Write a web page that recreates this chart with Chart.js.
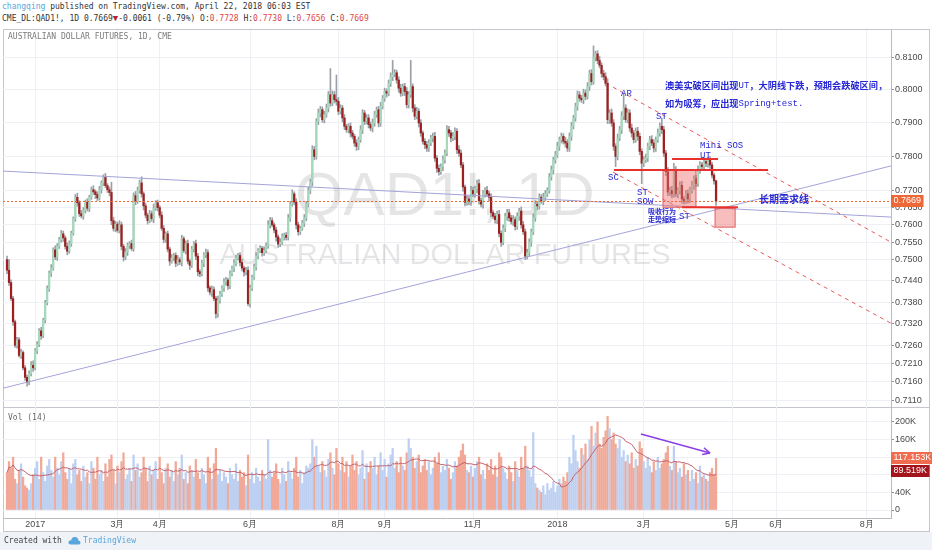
<!DOCTYPE html>
<html>
<head>
<meta charset="utf-8">
<title>QAD1! 1D</title>
<script src="https://cdn.jsdelivr.net/npm/chart.js@4.4.1/dist/chart.umd.min.js"></script>
<style>
  html, body { margin: 0; padding: 0; background: #fff; }
  body { position: relative; width: 932px; height: 550px; overflow: hidden;
         font-family: "DejaVu Sans Mono", monospace; }
  .txt { position: absolute; white-space: pre; font-size: 8px; line-height: 10px; color: #333; }
  .red { color: #e0474c; }
  .tri { color: #c0202a; font-size: 9px; }
  #frame { position: absolute; left: 3px; top: 29px; width: 927px; height: 503px;
           border: 1px solid #c3c6cc; box-sizing: border-box; }
  #sep { position: absolute; left: 3px; top: 407px; width: 927px; height: 1px; background: #c3c6cc; }
  #foot { position: absolute; left: 0; top: 532px; width: 932px; height: 18px; background: #eff2f6; }
  canvas { position: absolute; left: 0; }
</style>
</head>
<body>
<div class="txt" style="left:2px;top:2px"><span style="color:#5aa6dc">changqing</span> published on TradingView.com, April 22, 2018 06:03 EST</div>
<div class="txt" style="left:2px;top:13px">CME_DL:QAD1!, 1D 0.7669<span class="tri">▼</span>-0.0061 (-0.79%) O:<span class="red">0.7728</span> H:<span class="red">0.7730</span> L:<span class="red">0.7656</span> C:<span class="red">0.7669</span></div>
<div id="frame"></div>
<div id="sep"></div>
<canvas id="price" width="932" height="378" style="top:30px;width:932px;height:378px"></canvas>
<canvas id="vol" width="932" height="124" style="top:408px;width:932px;height:124px"></canvas>
<div class="txt" style="left:8px;top:32px;color:#7a7a7a">AUSTRALIAN DOLLAR FUTURES, 1D, CME</div>
<div class="txt" style="left:8px;top:413px;color:#6a6a6a">Vol (14)</div>
<div id="foot">
  <div class="txt" style="left:4px;top:4px;color:#444">Created with</div>
  <svg style="position:absolute;left:68px;top:4px" width="13" height="9" viewBox="0 0 13 9">
    <path d="M3 8.5 Q0 8.5 0.5 5.8 Q1 3.8 3.2 4.2 Q4 0.5 7.5 1 Q10.5 1.6 10.3 4.4 Q12.8 4.8 12.5 7 Q12.2 8.5 10.5 8.5 Z" fill="#5aa6dc"/>
  </svg>
  <div class="txt" style="left:83px;top:4px;color:#5aa6dc">TradingView</div>
</div>
<script>
// ---- data (one entry per daily bar) ----
const firstOpen = 0.7500;
const closes = [
  0.7470,0.7435,0.7390,0.7325,0.7260,0.7275,0.7232,0.7240,0.7198,0.7172,
  0.7160,0.7182,0.7205,0.7198,0.7245,0.7262,0.7300,0.7286,0.7330,0.7378,
  0.7418,0.7462,0.7476,0.7528,0.7508,0.7538,0.7558,0.7574,0.7562,0.7538,
  0.7524,0.7546,0.7576,0.7618,0.7680,0.7664,0.7632,0.7626,0.7642,0.7666,
  0.7648,0.7680,0.7702,0.7696,0.7688,0.7678,0.7702,0.7722,0.7738,0.7714,
  0.7702,0.7694,0.7612,0.7590,0.7602,0.7584,0.7600,0.7538,0.7508,0.7522,
  0.7540,0.7546,0.7532,0.7685,0.7668,0.7700,0.7722,0.7690,0.7655,0.7628,
  0.7612,0.7632,0.7618,0.7648,0.7664,0.7650,0.7628,0.7590,0.7558,0.7574,
  0.7530,0.7496,0.7505,0.7512,0.7490,0.7500,0.7494,0.7560,0.7526,0.7546,
  0.7496,0.7484,0.7530,0.7546,0.7510,0.7466,0.7460,0.7490,0.7514,0.7520,
  0.7420,0.7408,0.7415,0.7390,0.7348,0.7385,0.7402,0.7420,0.7436,0.7442,
  0.7426,0.7460,0.7476,0.7490,0.7505,0.7512,0.7492,0.7476,0.7465,0.7470,
  0.7376,0.7420,0.7450,0.7480,0.7510,0.7526,0.7532,0.7520,0.7526,0.7540,
  0.7600,0.7612,0.7600,0.7585,0.7565,0.7545,0.7550,0.7566,0.7570,0.7564,
  0.7620,0.7660,0.7690,0.7666,0.7600,0.7580,0.7590,0.7605,0.7620,0.7660,
  0.7700,0.7725,0.7820,0.7800,0.7905,0.7930,0.7940,0.7910,0.7925,0.7945,
  0.7985,0.7960,0.7985,0.7970,0.7965,0.7935,0.7945,0.7915,0.7890,0.7880,
  0.7890,0.7870,0.7860,0.7840,0.7830,0.7850,0.7880,0.7930,0.7905,0.7915,
  0.7895,0.7885,0.7900,0.7925,0.7940,0.7900,0.7950,0.7975,0.7995,0.7990,
  0.8020,0.8040,0.8048,0.8052,0.8030,0.8005,0.7990,0.8010,0.7995,0.7955,
  0.7985,0.8010,0.7945,0.7920,0.7935,0.7900,0.7870,0.7845,0.7835,0.7825,
  0.7840,0.7855,0.7860,0.7795,0.7765,0.7755,0.7770,0.7790,0.7810,0.7880,
  0.7870,0.7855,0.7860,0.7875,0.7820,0.7810,0.7775,0.7710,0.7665,0.7675,
  0.7668,0.7700,0.7690,0.7705,0.7720,0.7670,0.7660,0.7690,0.7700,0.7690,
  0.7680,0.7635,0.7625,0.7615,0.7630,0.7575,0.7550,0.7590,0.7625,0.7635,
  0.7620,0.7610,0.7615,0.7595,0.7625,0.7640,0.7600,0.7580,0.7510,0.7520,
  0.7550,0.7580,0.7620,0.7660,0.7655,0.7680,0.7670,0.7680,0.7690,0.7700,
  0.7740,0.7760,0.7790,0.7805,0.7830,0.7850,0.7860,0.7845,0.7840,0.7825,
  0.7860,0.7890,0.7915,0.7950,0.7985,0.7975,0.7970,0.7990,0.7980,0.8010,
  0.8050,0.8025,0.8100,0.8110,0.8090,0.8075,0.8050,0.8040,0.8020,0.7910,
  0.7930,0.7900,0.7830,0.7800,0.7855,0.7880,0.7920,0.7945,0.7910,0.7930,
  0.7885,0.7870,0.7850,0.7875,0.7860,0.7815,0.7780,0.7790,0.7795,0.7830,
  0.7850,0.7840,0.7825,0.7850,0.7870,0.7890,0.7880,0.7810,0.7755,0.7695,
  0.7700,0.7690,0.7760,0.7690,0.7700,0.7715,0.7675,0.7670,0.7690,0.7675,
  0.7700,0.7715,0.7735,0.7720,0.7760,0.7775,0.7770,0.7785,0.7780,0.7790,
  0.7775,0.7745,0.7728,0.7669
];
// wick lengths above / below the body, in 0.0001
const wickUp = [
  10,30,8,6,5,7,6,9,5,6, 6,8,10,12,6,8,6,10,5,7, 8,6,10,6,12,8,6,10,8,6,
  10,8,6,5,8,12,6,10,8,6, 10,6,8,12,6,8,10,6,8,12, 6,8,30,10,8,6,12,8,6,10,
  8,6,10,8,12,10,8,18,6,8, 6,10,8,12,6,8,6,10,8,6, 8,6,10,6,8,12,6,10,6,8,
  10,6,8,6,10,8,6,8,6,10, 8,6,10,8,6,12,8,6,10,8, 6,8,6,10,8,6,8,10,6,8,
  10,8,6,8,10,6,8,6,10,8, 12,10,8,6,8,6,10,8,6,8, 10,8,12,6,10,8,6,8,10,8,
  10,8,12,10,8,12,10,8,10,12, 10,80,12,10,75,12,10,8,10,6, 8,10,8,6,10,8,12,10,8,10,
  10,8,12,10,8,10,12,8,10,8, 10,12,42,10,8,10,12,8,10,12, 10,80,8,10,12,8,10,6,8,10,
  10,8,10,12,8,10,8,12,10,12, 10,8,12,10,8,12,10,8,6,10, 8,12,10,8,10,12,8,10,8,12,
  8,10,6,8,10,12,8,10,8,10, 10,8,12,8,10,8,12,10,8,10, 10,8,12,10,8,10,8,12,10,8,
  10,12,8,10,12,8,10,8,12,10, 10,12,8,10,12,10,8,12,10,12, 10,12,35,8,10,12,8,10,12,14,
  10,12,10,8,12,10,14,45,10,12, 10,12,8,10,12,10,8,10,12,10, 10,12,10,8,12,10,25,10,8,12,
  10,12,20,10,8,10,12,8,10,12, 10,12,8,10,12,10,8,12,10,8, 10,8,6,2
];
const wickDown = [
  10,8,6,10,6,8,5,8,6,8, 12,8,6,10,6,8,6,10,5,8, 6,8,10,6,8,10,6,8,10,8,
  10,6,8,6,8,10,8,6,10,8, 8,10,6,8,12,8,6,10,8,6, 8,10,12,8,10,6,8,10,12,8,
  10,8,6,8,10,6,8,10,12,8, 10,6,8,12,6,10,8,6,10,8, 8,12,6,8,10,6,8,12,6,10,
  8,12,6,8,10,12,8,6,10,8, 10,8,12,6,13,10,8,6,10,8, 10,8,6,10,8,6,10,8,12,8,
  6,10,8,6,10,8,6,10,8,6, 8,10,6,8,12,10,8,6,10,8, 8,10,6,8,12,10,8,6,10,8,
  8,10,12,10,8,10,12,8,10,8, 12,10,8,10,12,10,8,12,10,8, 10,12,8,10,12,10,8,12,10,8,
  10,8,12,10,8,12,10,8,10,12, 8,10,12,8,10,12,10,8,12,10, 10,8,12,10,8,12,10,8,12,10,
  10,8,12,10,12,10,8,12,10,8, 10,12,8,10,12,10,8,12,10,8, 10,12,8,10,12,10,8,12,10,8,
  10,12,8,10,12,10,12,8,10,12, 10,8,12,10,8,12,10,8,10,8, 10,12,8,10,12,10,8,12,10,8,
  8,10,12,10,8,12,10,8,12,10, 10,12,8,10,12,10,8,12,10,8, 12,10,8,12,10,8,12,10,8,12,
  12,10,12,30,10,8,12,10,8,10, 10,12,10,8,12,10,60,10,8,10, 10,8,12,10,8,10,12,10,12,10,
  10,12,10,8,12,10,12,10,8,12, 10,8,12,10,8,10,12,8,10,12, 10,8,10,13
];
// volume, thousands of contracts
const volumes = [
  85,110,95,120,70,60,90,105,75,55, 50,45,60,80,95,110,70,120,85,65,
  100,115,90,75,120,95,80,110,130,85, 70,95,60,105,115,80,90,65,100,75,
  85,60,110,95,70,120,80,90,65,105, 75,115,125,90,60,100,85,110,130,70,
  80,95,65,125,90,105,75,85,120,95, 65,100,80,90,110,70,120,85,60,95,
  105,75,90,65,110,80,95,125,70,85, 60,100,90,75,115,85,70,95,80,60,
  120,95,70,105,140,80,90,65,85,75, 60,95,80,70,105,65,90,75,85,55,
  125,70,85,60,95,75,65,90,80,70, 160,90,75,85,105,70,60,95,80,65,
  110,85,70,95,120,75,90,60,85,100, 95,105,160,120,145,100,85,110,90,75,
  115,130,95,80,140,105,90,120,85,110, 75,100,125,90,110,80,95,135,70,105,
  85,110,95,120,80,100,130,90,115,75, 105,125,140,95,110,85,120,100,90,130,
  162,140,120,95,110,125,85,100,115,90, 110,80,95,120,105,130,85,100,90,115,
  95,70,85,110,100,120,135,150,125,90, 85,100,75,95,110,120,80,90,70,105,
  90,115,80,100,75,130,120,95,85,70, 100,85,65,110,90,75,120,95,145,100,
  90,75,176,60,50,45,40,55,35,60, 45,50,65,40,55,70,60,75,65,85,
  120,105,170,135,110,95,140,125,150,115, 160,190,145,175,200,150,140,165,180,213,
  185,160,175,150,140,160,120,135,110,125, 105,130,95,115,100,155,140,110,95,120,
  100,85,110,90,120,95,105,115,130,145, 100,90,145,110,85,95,75,105,80,90,
  65,90,70,85,60,100,75,80,70,65, 85,95,80,117.153
];
const volMaLast = 89.519;
const maLength = 14;

// time axis: bar index of each month start, and its label
const monthIdx = [14, 55, 76, 121, 165, 188, 232, 274, 317, 361, 383, 428];
const monthLabels = ['2017', '3月', '4月', '6月', '8月', '9月', '11月', '2018', '3月', '5月', '6月', '8月'];
const priceTicks = [0.7110, 0.7160, 0.7210, 0.7260, 0.7320, 0.7380, 0.7440, 0.7500,
                    0.7550, 0.7600, 0.7650, 0.7700, 0.7800, 0.7900, 0.8000, 0.8100];
const volTicks = [0, 40, 80, 120, 160, 200];
const watermark = ['QAD1!, 1D', 'AUSTRALIAN DOLLAR FUTURES'];

// drawings on the chart, in bar index / price units
const trendLines = [[-2, 0.71425, 440.1, 0.7772], [-2, 0.77568, 440.1, 0.76224]];
const channelLines = [[301.7, 0.80082, 440.1, 0.75501], [301.7, 0.77539, 440.1, 0.73211]];
const levelLines = [[302.2, 378.9, 0.77598], [331.1, 354.0, 0.77923], [336.1, 363.9, 0.76508]];
const zones = [[326.6, 343.0, 0.7760, 0.7651], [352.5, 362.5, 0.76479, 0.75933]];
const notes = [
  ['AR', 305.7, 0.7990], ['ST', 323.1, 0.7918], ['SC', 299.2, 0.7739],
  ['ST', 313.7, 0.7695], ['SOW', 313.7, 0.7666], ['ST', 334.6, 0.76248],
  ['Mini SOS', 345.0, 0.78334], ['UT', 345.0, 0.78037]
];
const comment = [
  [[327.6, 0.80143], [['澳美实破区间出现', 'cjk'], ['UT', 'mono'], ['，大阴线下跌，预期会跌破区间，', 'cjk']]],
  [[327.6, 0.79597], [['如为吸筹，应出现', 'cjk'], ['Spring+test.', 'mono']]]
];
const smallNotes = [['吸收行为', 319.1, 0.76392], ['走势缩短', 319.1, 0.76161]];
const demandNote = ['长期需求线', 374.4, 0.7673];
const volArrow = [315.6, 172.7, 350.0, 129.5];

// ---- look ----
const X_MIN = -2, X_MAX = 440.1;
const Y_MIN = 0.7089, Y_MAX = 0.8184;
const V_MIN = -18.18, V_MAX = 231.8;
const GRID = '#eef0f3';
const AXIS = '#b8bbc0';
const UP_BODY = '#a6d8bd', DOWN_BODY = '#9d1f1f', WICK = '#9aa0a6';
const VOL_UP = '#bdd0f2', VOL_DOWN = '#f1a896', MA_COLOR = '#c5606c';
const BLUE = '#2626d4';
const LAST_COLOR = '#ee6737';

Chart.defaults.font.family = '"Liberation Sans", Arial, sans-serif';

const idx = closes.map((_, i) => i);
const opens = closes.map((c, i) => (i === 0 ? firstOpen : closes[i - 1]));
const highs = closes.map((c, i) => Math.max(opens[i], c) + wickUp[i] / 10000);
const lows = closes.map((c, i) => Math.min(opens[i], c) - wickDown[i] / 10000);
const isUp = closes.map((c, i) => c >= opens[i]);
const volMa = volumes.map((v, i) => {
  const s = volumes.slice(Math.max(0, i - maLength + 1), i + 1);
  return s.reduce((a, b) => a + b, 0) / s.length;
});
const lastClose = closes[closes.length - 1];
const lastVol = volumes[volumes.length - 1];

// no label padding: the plot must fill its canvas exactly
function noPad(s) {
  s.paddingTop = 0; s.paddingBottom = 0; s.paddingLeft = 0; s.paddingRight = 0;
}

function timeAxis(showLabels) {
  return {
    type: 'linear', min: X_MIN, max: X_MAX, offset: false,
    afterBuildTicks: s => { s.ticks = monthIdx.map(v => ({ value: v })); },
    afterFit: s => { s.height = showLabels ? 14 : 0; noPad(s); },
    grid: { color: GRID, drawTicks: false, offset: false },
    border: { display: showLabels, color: AXIS },
    ticks: {
      display: showLabels, autoSkip: false, maxRotation: 0, padding: 1,
      color: '#4a4a4a', font: { size: 9 },
      callback: (v, i) => monthLabels[i]
    }
  };
}

function valueAxis(extra) {
  return Object.assign({
    position: 'right',
    afterFit: s => { s.width = 41; noPad(s); },
    grid: { color: GRID, tickColor: '#8a8f96', tickLength: 3 },
    border: { display: true, color: AXIS }
  }, extra);
}

function line(ctx, x1, y1, x2, y2, color, width, dash) {
  ctx.beginPath();
  ctx.strokeStyle = color;
  ctx.lineWidth = width;
  ctx.setLineDash(dash || []);
  ctx.moveTo(x1, y1);
  ctx.lineTo(x2, y2);
  ctx.stroke();
  ctx.setLineDash([]);
}

function axisBox(ctx, x, y, text, bg) {
  ctx.font = '9px "Liberation Sans"';
  const w = ctx.measureText(text).width + 5;
  ctx.fillStyle = bg;
  ctx.fillRect(x, Math.round(y) - 6, w, 12);
  ctx.fillStyle = '#fff';
  ctx.textAlign = 'left';
  ctx.textBaseline = 'middle';
  ctx.fillText(text, x + 2.5, Math.round(y));
}

const fonts = { cjk: 'bold 9.2px "Noto Sans CJK SC"', mono: '9px "Liberation Mono"' };

const priceOverlay = {
  id: 'priceOverlay',
  beforeDatasetsDraw(chart) {
    const { ctx, chartArea: a } = chart;
    ctx.save();
    ctx.fillStyle = 'rgba(0, 0, 0, 0.1)';
    ctx.textAlign = 'center';
    ctx.textBaseline = 'middle';
    ctx.font = '62px "Liberation Sans"';
    ctx.fillText(watermark[0], (a.left + a.right) / 2 - 2, a.top + 168);
    ctx.font = '29px "Liberation Sans"';
    ctx.fillText(watermark[1], (a.left + a.right) / 2 - 2, a.top + 226);
    ctx.restore();
  },
  afterDatasetsDraw(chart) {
    const { ctx, chartArea: a } = chart;
    const px = v => chart.scales.x.getPixelForValue(v);
    const py = v => chart.scales.y.getPixelForValue(v);
    ctx.save();
    ctx.beginPath();
    ctx.rect(a.left, a.top, a.right - a.left, a.bottom - a.top);
    ctx.clip();

    trendLines.forEach(t => line(ctx, px(t[0]), py(t[1]), px(t[2]), py(t[3]), '#a3a3d8', 1));
    channelLines.forEach(t => line(ctx, px(t[0]), py(t[1]), px(t[2]), py(t[3]), '#ea5a5a', 1, [4, 4]));

    zones.forEach(z => {
      const x1 = px(z[0]), x2 = px(z[1]), y1 = py(z[2]), y2 = py(z[3]);
      ctx.fillStyle = 'rgba(240, 110, 110, 0.45)';
      ctx.fillRect(x1, y1, x2 - x1, y2 - y1);
      ctx.strokeStyle = '#e35c5c';
      ctx.lineWidth = 1;
      ctx.strokeRect(x1, y1, x2 - x1, y2 - y1);
    });
    levelLines.forEach(l => line(ctx, px(l[0]), py(l[2]), px(l[1]), py(l[2]), '#e8302c', 2));

    const yl = Math.round(py(lastClose)) + 0.5;
    line(ctx, a.left, yl, a.right, yl, LAST_COLOR, 1, [2, 2]);

    ctx.fillStyle = BLUE;
    ctx.textAlign = 'left';
    ctx.textBaseline = 'middle';
    ctx.font = fonts.mono;
    notes.forEach(n => ctx.fillText(n[0], px(n[1]), py(n[2])));

    comment.forEach(row => {
      let x = px(row[0][0]);
      const y = py(row[0][1]);
      row[1].forEach(seg => {
        ctx.font = fonts[seg[1]];
        ctx.fillText(seg[0], x, y);
        x += ctx.measureText(seg[0]).width;
      });
    });

    ctx.font = 'bold 7px "Noto Sans CJK SC"';
    smallNotes.forEach(n => ctx.fillText(n[0], px(n[1]), py(n[2])));
    ctx.font = 'bold 10px "Noto Sans CJK SC"';
    ctx.fillText(demandNote[0], px(demandNote[1]), py(demandNote[2]));
    ctx.restore();
  },
  afterDraw(chart) {
    const { ctx, chartArea: a } = chart;
    ctx.save();
    axisBox(ctx, a.right, chart.scales.y.getPixelForValue(lastClose), lastClose.toFixed(4), LAST_COLOR);
    ctx.restore();
  }
};

const volOverlay = {
  id: 'volOverlay',
  afterDatasetsDraw(chart) {
    const { ctx } = chart;
    const px = v => chart.scales.x.getPixelForValue(v);
    const py = v => chart.scales.y.getPixelForValue(v);
    const x1 = px(volArrow[0]), y1 = py(volArrow[1]), x2 = px(volArrow[2]), y2 = py(volArrow[3]);
    ctx.save();
    line(ctx, x1, y1, x2, y2, '#8a3fe6', 1.5);
    const ang = Math.atan2(y2 - y1, x2 - x1);
    [0.45, -0.45].forEach(d => {
      line(ctx, x2, y2, x2 - 8 * Math.cos(ang + d), y2 - 8 * Math.sin(ang + d), '#8a3fe6', 1.5);
    });
    ctx.restore();
  },
  afterDraw(chart) {
    const { ctx, chartArea: a } = chart;
    const y = chart.scales.y;
    ctx.save();
    axisBox(ctx, a.right, y.getPixelForValue(lastVol), lastVol.toFixed(3) + 'K', '#ef6c4e');
    axisBox(ctx, a.right, y.getPixelForValue(volMaLast), volMaLast.toFixed(3) + 'K', '#a3141c');
    ctx.restore();
  }
};

new Chart(document.getElementById('price'), {
  type: 'bar',
  data: {
    datasets: [
      {
        data: idx.map(i => ({ x: i, y: [lows[i], highs[i]] })),
        backgroundColor: WICK,
        barThickness: 1,
        grouped: false,
        order: 2
      },
      {
        data: idx.map(i => ({ x: i, y: [Math.min(opens[i], closes[i]), Math.max(opens[i], closes[i])] })),
        backgroundColor: idx.map(i => (isUp[i] ? UP_BODY : DOWN_BODY)),
        barThickness: 1.6,
        minBarLength: 1,
        grouped: false,
        order: 1
      }
    ]
  },
  options: {
    responsive: false,
    animation: false,
    layout: { padding: { left: 3, top: 0, right: 0, bottom: 0 }, autoPadding: false },
    plugins: { legend: { display: false }, tooltip: { enabled: false } },
    scales: {
      x: timeAxis(false),
      y: valueAxis({
        type: 'logarithmic', min: Y_MIN, max: Y_MAX,
        afterBuildTicks: s => { s.ticks = priceTicks.map(v => ({ value: v })); },
        ticks: { color: '#4a4a4a', font: { size: 9 }, padding: 1, callback: v => Number(v).toFixed(4) }
      })
    }
  },
  plugins: [priceOverlay]
});

new Chart(document.getElementById('vol'), {
  type: 'bar',
  data: {
    datasets: [
      {
        type: 'line',
        data: idx.map(i => ({ x: i, y: volMa[i] })),
        borderColor: MA_COLOR,
        borderWidth: 1,
        pointRadius: 0,
        order: 0
      },
      {
        data: idx.map(i => ({ x: i, y: volumes[i] })),
        backgroundColor: idx.map(i => (isUp[i] ? VOL_UP : VOL_DOWN)),
        barThickness: 1.6,
        grouped: false,
        order: 1
      }
    ]
  },
  options: {
    responsive: false,
    animation: false,
    layout: { padding: { left: 3, top: 0, right: 0, bottom: 0 }, autoPadding: false },
    plugins: { legend: { display: false }, tooltip: { enabled: false } },
    scales: {
      x: timeAxis(true),
      y: valueAxis({
        type: 'linear', min: V_MIN, max: V_MAX,
        afterBuildTicks: s => { s.ticks = volTicks.map(v => ({ value: v })); },
        ticks: { color: '#4a4a4a', font: { size: 9 }, padding: 1, callback: v => (v === 0 ? '0' : v + 'K') }
      })
    }
  },
  plugins: [volOverlay]
});
</script>
</body>
</html>
